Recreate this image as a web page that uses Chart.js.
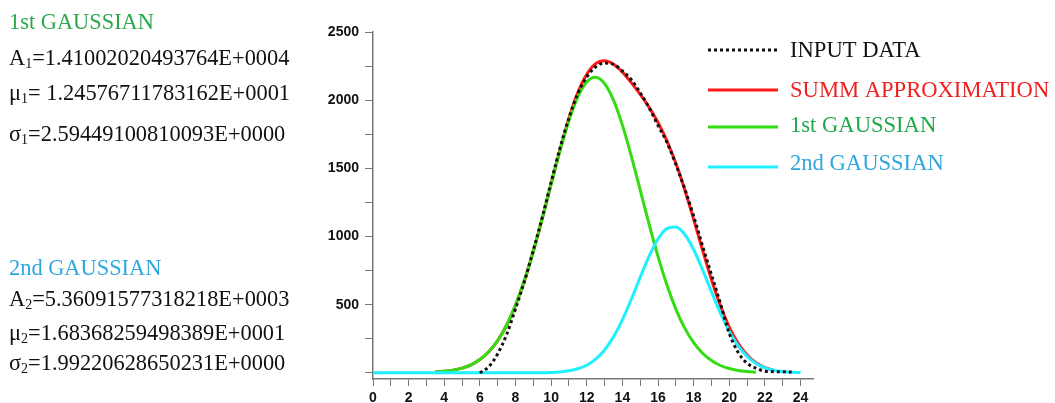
<!DOCTYPE html>
<html>
<head>
<meta charset="utf-8">
<script src="https://cdn.jsdelivr.net/npm/chart.js@4.4.1/dist/chart.umd.min.js"></script>
<style>
body { margin: 0; background: #fff; }
#wrap { position: relative; width: 1055px; height: 403px; overflow: hidden; }
#wrap canvas { position: absolute; left: 0; top: 0; }
.p { position: absolute; left: 9px; font: 22.4px "Liberation Serif", serif; line-height: 22px; color: #111; white-space: nowrap; }
.p sub { font-size: 14px; line-height: 0; vertical-align: -3px; }
</style>
</head>
<body>
<div id="wrap">
  <canvas id="gaussChart" width="1055" height="403"></canvas>
  <div class="p" style="top:11px;color:#2aa84a">1st GAUSSIAN</div>
  <div class="p" style="top:47px">A<sub>1</sub>=1.41002020493764E+0004</div>
  <div class="p" style="top:82px">μ<sub>1</sub>= 1.24576711783162E+0001</div>
  <div class="p" style="top:123px">σ<sub>1</sub>=2.59449100810093E+0000</div>
  <div class="p" style="top:257px;color:#2fa6de">2nd GAUSSIAN</div>
  <div class="p" style="top:288px">A<sub>2</sub>=5.36091577318218E+0003</div>
  <div class="p" style="top:322px">μ<sub>2</sub>=1.68368259498389E+0001</div>
  <div class="p" style="top:352px">σ<sub>2</sub>=1.99220628650231E+0000</div>
</div>
<script>
const xValues = [0, 0.5, 1, 1.5, 2, 2.5, 3, 3.5, 4, 4.5, 5, 5.5, 6, 6.5, 7, 7.5, 8, 8.5, 9, 9.5,
    10, 10.5, 11, 11.5, 12, 12.5, 13, 13.5, 14, 14.5, 15, 15.5, 16, 16.5, 17, 17.5, 18, 18.5,
    19, 19.5, 20, 20.5, 21, 21.5, 22, 22.5, 23, 23.5, 24];

// null = not drawn there
const inputData = [null, null, null, null, null, null, null, null, null, null, null, null,
    0, 45, 140, 280, 470, 670, 900, 1140, 1400, 1650, 1870, 2050, 2170, 2245, 2272, 2262,
    2215, 2150, 2055, 1945, 1815, 1690, 1530, 1350, 1150, 930, 720, 510, 290, 150, 70, 35,
    12, 9, 8, 6, null];

const summApprox = [null, null, null, null, null, null, null,
    6, 11, 20, 35, 59, 98, 155, 237, 349, 495, 677, 892, 1132, 1387, 1638, 1866, 2055, 2190,
    2268, 2289, 2264, 2206, 2129, 2042, 1947, 1836, 1702, 1537, 1343, 1126, 901, 685, 493,
    336, 216, 131, 74, 39, 19, null, null, null];

const gauss1 = [null, null, null, null, null, null, null,
    6, 11, 20, 35, 59, 98, 155, 237, 349, 495, 677, 892, 1131, 1384, 1631, 1851, 2025, 2134,
    2168, 2121, 2000, 1817, 1590, 1341, 1090, 854, 644, 468, 328, 221, 144, 90, 54, 32, 18,
    10, 5, null, null, null, null, null];

const gauss2 = [0, 0, 0, 0, 0, 0, 0, 0, 0, 0, 0, 0, 0, 0, 0, 0, 0, 0, 0,
    1, 3, 7, 15, 30, 56, 100, 168, 264, 389, 539, 701, 857, 982, 1058, 1069, 1015, 905, 757,
    595, 439, 304, 198, 121, 69, 37, 19, 9, 4, 2];

const seriesNames = ['INPUT DATA', 'SUMM APPROXIMATION', '1st GAUSSIAN', '2nd GAUSSIAN'];

const xTicks = [0, 1, 2, 3, 4, 5, 6, 7, 8, 9, 10, 11, 12, 13, 14, 15, 16, 17, 18, 19, 20, 21, 22, 23, 24];
const yTicks = [0, 250, 500, 750, 1000, 1250, 1500, 1750, 2000, 2250, 2500];

function toPoints(vals) {
    const pts = [];
    vals.forEach((v, i) => { if (v !== null) pts.push({ x: xValues[i], y: v }); });
    return pts;
}

// legend drawn inside the plot, like the original
const sideLegend = {
    id: 'sideLegend',
    afterDraw(chart, args, opts) {
        const ctx = chart.ctx;
        ctx.save();
        chart.data.datasets.forEach((ds, i) => {
            const y = opts.lineY[i];
            ctx.strokeStyle = ds.borderColor;
            ctx.lineWidth = ds.borderWidth;
            ctx.setLineDash(ds.borderDash || []);
            ctx.beginPath();
            ctx.moveTo(opts.x, y);
            ctx.lineTo(opts.x + opts.len, y);
            ctx.stroke();
            ctx.setLineDash([]);
            ctx.fillStyle = opts.textColors[i];
            ctx.font = '22.6px "Liberation Serif", serif';
            ctx.textBaseline = 'alphabetic';
            ctx.fillText(ds.label, opts.textX, opts.textY[i]);
        });
        ctx.restore();
    }
};

const tickFont = { family: 'Liberation Sans, Arial', size: 14, weight: 'bold' };

new Chart(document.getElementById('gaussChart'), {
    type: 'line',
    data: {
        datasets: [
            { label: seriesNames[0], data: toPoints(inputData), borderColor: '#111111', borderWidth: 3, borderDash: [3, 3], order: 0 },
            { label: seriesNames[1], data: toPoints(summApprox), borderColor: '#ff1a1a', borderWidth: 3, order: 3 },
            { label: seriesNames[2], data: toPoints(gauss1), borderColor: '#33dd11', borderWidth: 3, order: 2 },
            { label: seriesNames[3], data: toPoints(gauss2), borderColor: '#1ff0ff', borderWidth: 3, order: 1 }
        ]
    },
    options: {
        responsive: false,
        animation: false,
        elements: {
            point: { radius: 0 },
            line: { cubicInterpolationMode: 'monotone', fill: false }
        },
        layout: { padding: { top: 32, right: 242, bottom: 0, left: 0 } },
        scales: {
            x: {
                type: 'linear',
                min: 0,
                max: 24.7,
                afterBuildTicks: s => { s.ticks = xTicks.map(v => ({ value: v })); },
                afterFit: s => { s.height = 24; },
                ticks: {
                    autoSkip: false,
                    maxRotation: 0,
                    padding: 4,
                    color: '#111',
                    font: tickFont,
                    callback: v => (v % 2 === 0 ? String(v) : '')
                },
                grid: { drawOnChartArea: false, tickLength: 7, color: '#777' },
                border: { color: '#777', width: 1.5 }
            },
            y: {
                min: -45,
                max: 2500,
                afterBuildTicks: s => { s.ticks = yTicks.map(v => ({ value: v })); },
                afterFit: s => { s.width = 373; },
                ticks: {
                    autoSkip: false,
                    padding: 6,
                    color: '#111',
                    font: tickFont,
                    callback: v => (v > 0 && v % 500 === 0 ? String(v) : '')
                },
                grid: { drawOnChartArea: false, tickLength: 8, color: '#777' },
                border: { color: '#777', width: 1.5 }
            }
        },
        plugins: {
            legend: { display: false },
            tooltip: { enabled: false },
            sideLegend: {
                x: 708,
                len: 70,
                textX: 790,
                lineY: [50, 90, 127, 167],
                textY: [57, 97, 132, 170],
                textColors: ['#111111', '#ee2020', '#22a84a', '#2fa6de']
            }
        }
    },
    plugins: [sideLegend]
});
</script>
</body>
</html>
